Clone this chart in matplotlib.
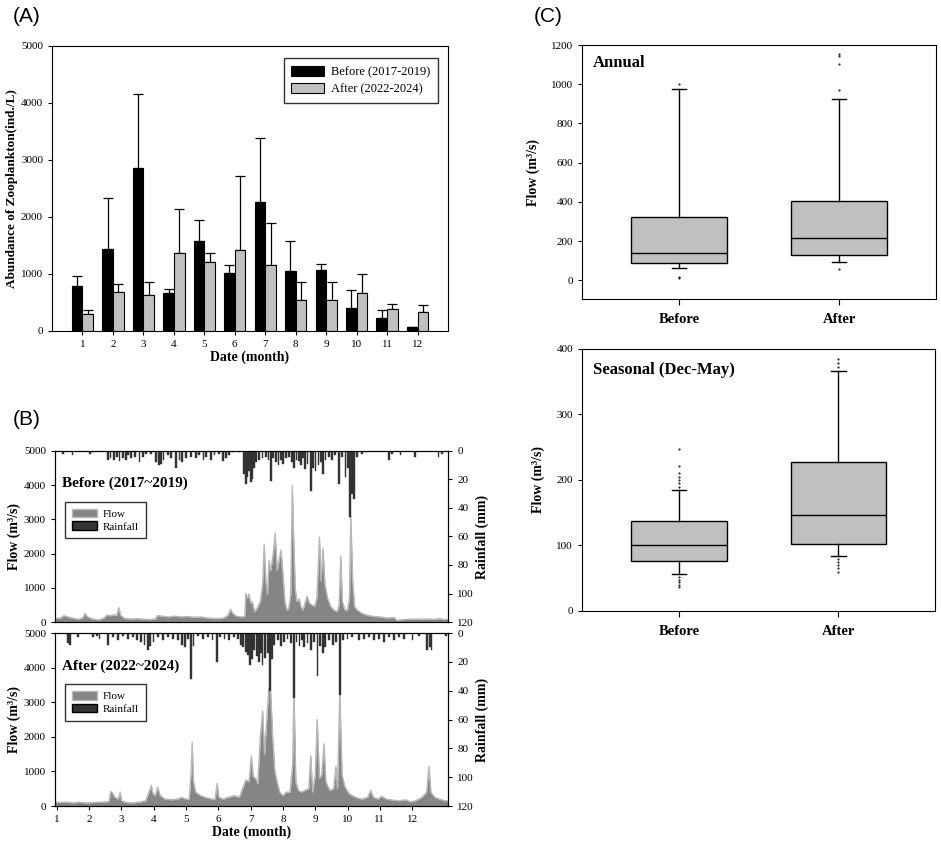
import matplotlib
matplotlib.use('Agg')
import matplotlib.pyplot as plt
from matplotlib.patches import Patch

plt.rcParams['font.family'] = ['Liberation Serif', 'DejaVu Serif']
plt.rcParams['xtick.direction'] = 'out'
plt.rcParams['ytick.direction'] = 'out'

# ---------------- Panel A data ----------------
months = list(range(1, 13))
before_mean = [789, 1439, 2860, 667, 1579, 1018, 2263, 1047, 1064, 398, 222, 64]
before_err = [170, 888, 1292, 64, 363, 134, 1117, 526, 106, 315, 141, 0]
after_mean = [298, 678, 632, 1363, 1205, 1415, 1152, 538, 538, 661, 380, 327]
after_err = [65, 141, 233, 772, 158, 1298, 737, 327, 327, 345, 88, 123]

# ---------------- Panel B data ----------------
flow_before_x = [0.95, 1.10, 1.22, 1.30, 1.45, 1.65, 1.80, 1.87, 1.95, 2.10, 2.30, 2.45, 2.55, 2.65,
                 2.75, 2.85, 2.92, 2.97, 3.10, 3.30, 3.50, 3.70, 3.90, 4.05, 4.12, 4.25, 4.45, 4.65,
                 4.85, 5.05, 5.25, 5.45, 5.65, 5.85, 6.05, 6.20, 6.30, 6.38, 6.45, 6.55, 6.70, 6.82,
                 6.85, 6.90, 6.95, 7.00, 7.05, 7.12, 7.20, 7.30, 7.37, 7.42, 7.47, 7.52, 7.57, 7.62,
                 7.70, 7.76, 7.82, 7.88, 7.94, 8.00, 8.06, 8.12, 8.18, 8.24, 8.29, 8.33, 8.38, 8.43,
                 8.50, 8.56, 8.62, 8.70, 8.75, 8.82, 8.90, 8.98, 9.05, 9.13, 9.18, 9.24, 9.30, 9.38,
                 9.48, 9.58, 9.68, 9.74, 9.79, 9.84, 9.92, 10.00, 10.06, 10.10, 10.16, 10.22, 10.30,
                 10.45, 10.60, 10.80, 11.00, 11.20, 11.45, 11.52, 11.70, 11.90, 12.10, 12.30, 12.50,
                 12.70, 12.85, 13.00, 13.12]
flow_before_y = [100, 110, 190, 160, 120, 80, 120, 250, 150, 90, 60, 110, 200, 180,
                 210, 190, 420, 200, 100, 90, 100, 80, 70, 90, 190, 170, 150, 170,
                 150, 160, 140, 150, 120, 100, 100, 130, 200, 370, 250, 170, 150, 160,
                 830, 700, 820, 550, 600, 300, 400, 600, 1100, 2270, 1200, 800, 1800, 1500,
                 2000, 2600, 1500, 1800, 2100, 1400, 600, 350, 400, 800, 4000, 2500, 1000, 600,
                 680, 450, 350, 600, 750, 550, 500, 450, 700, 2480, 1200, 2150, 1100, 700,
                 450, 350, 300, 500, 1930, 600, 350, 350, 700, 3100, 1200, 450, 350,
                 250, 200, 160, 150, 120, 130, 50, 70, 80, 90, 80, 90,
                 80, 100, 70, 80]

rain_before_x = [1.20, 1.30, 1.48, 1.61, 2.02, 2.12, 2.58, 2.66, 2.76, 2.86, 2.94, 3.05, 3.13, 3.20,
                 3.30, 3.41, 3.56, 3.66, 3.77, 3.92, 4.08, 4.16, 4.23, 4.30, 4.44, 4.54, 4.69, 4.80,
                 4.88, 5.00, 5.16, 5.31, 5.41, 5.54, 5.62, 5.77, 5.88, 6.03, 6.15, 6.24, 6.34, 6.44,
                 6.65, 6.80, 6.85, 6.90, 6.96, 7.01, 7.06, 7.11, 7.16, 7.27, 7.37, 7.47, 7.55, 7.63,
                 7.70, 7.78, 7.86, 7.93, 8.01, 8.09, 8.19, 8.27, 8.35, 8.42, 8.50, 8.55, 8.63, 8.69,
                 8.76, 8.86, 8.93, 9.01, 9.10, 9.17, 9.24, 9.32, 9.43, 9.53, 9.61, 9.73, 9.82, 9.94,
                 10.02, 10.08, 10.15, 10.21, 10.30, 10.45, 10.56, 11.28, 11.38, 11.64, 12.10, 12.20,
                 12.82, 12.92]
rain_before_y = [2, 1, 3, 1, 2, 1, 6, 5, 6, 4, 7, 5, 6, 3,
                 5, 4, 8, 4, 2, 2, 8, 10, 9, 6, 3, 5, 12, 6,
                 8, 5, 4, 5, 3, 6, 4, 6, 3, 2, 7, 5, 3, 1,
                 1, 16, 23, 18, 14, 22, 20, 12, 8, 6, 5, 4, 6, 21,
                 5, 8, 10, 6, 9, 5, 4, 8, 12, 6, 7, 10, 5, 13,
                 9, 28, 12, 14, 10, 8, 16, 6, 4, 6, 3, 23, 4, 18,
                 12, 46, 30, 34, 4, 2, 1, 6, 2, 3, 4, 1,
                 4, 2]

flow_after_x = [0.95, 1.05, 1.30, 1.50, 1.70, 1.90, 2.10, 2.30, 2.50, 2.62, 2.66, 2.72, 2.80, 2.90,
                2.96, 3.00, 3.15, 3.35, 3.55, 3.75, 3.85, 3.92, 3.98, 4.05, 4.12, 4.20, 4.35, 4.55,
                4.75, 4.85, 5.00, 5.10, 5.15, 5.19, 5.23, 5.30, 5.45, 5.60, 5.80, 5.90, 5.96, 6.02,
                6.15, 6.30, 6.50, 6.65, 6.75, 6.85, 6.95, 7.02, 7.08, 7.15, 7.22, 7.30, 7.37, 7.43,
                7.50, 7.56, 7.62, 7.68, 7.75, 7.82, 7.90, 8.00, 8.10, 8.22, 8.30, 8.34, 8.40, 8.48,
                8.58, 8.68, 8.80, 8.86, 8.92, 9.00, 9.06, 9.13, 9.20, 9.27, 9.33, 9.45, 9.57, 9.64,
                9.69, 9.76, 9.83, 9.92, 10.05, 10.25, 10.45, 10.62, 10.72, 10.80, 10.95, 11.05, 11.20,
                11.40, 11.60, 11.80, 11.95, 12.10, 12.30, 12.45, 12.52, 12.58, 12.70, 12.85, 13.00,
                13.12]
flow_after_y = [120, 100, 110, 90, 110, 90, 100, 110, 120, 130, 420, 380, 250, 200,
                400, 150, 100, 90, 110, 150, 400, 600, 350, 300, 550, 300, 200, 180,
                200, 250, 200, 200, 900, 1850, 700, 400, 300, 250, 200, 200, 650, 250,
                200, 250, 300, 250, 500, 750, 700, 1450, 850, 800, 650, 2000, 2750, 1500,
                2500, 3400, 3300, 2000, 1000, 700, 400, 300, 400, 400, 1200, 3350, 700, 450,
                400, 450, 500, 1450, 400, 900, 2500, 800, 900, 1800, 700, 450, 500, 1150,
                500, 3300, 900, 550, 350, 250, 200, 250, 450, 250, 200, 280, 200,
                170, 150, 180, 120, 150, 250, 400, 1150, 400, 250, 200, 150,
                150]

rain_after_x = [1.34, 1.41, 1.65, 2.11, 2.24, 2.32, 2.58, 2.73, 2.89, 3.04, 3.20, 3.35, 3.47, 3.61,
                3.71, 3.81, 3.89, 3.99, 4.12, 4.28, 4.43, 4.59, 4.74, 4.88, 4.96, 5.05, 5.15, 5.23,
                5.36, 5.52, 5.67, 5.82, 5.95, 6.05, 6.19, 6.34, 6.49, 6.60, 6.70, 6.77, 6.86, 6.91,
                6.98, 7.04, 7.11, 7.19, 7.25, 7.32, 7.37, 7.44, 7.53, 7.60, 7.66, 7.73, 7.84, 7.94,
                8.04, 8.14, 8.25, 8.35, 8.42, 8.51, 8.59, 8.66, 8.76, 8.87, 8.97, 9.07, 9.14, 9.23,
                9.31, 9.43, 9.54, 9.64, 9.76, 9.85, 10.00, 10.15, 10.36, 10.52, 10.67, 10.82, 10.98,
                11.13, 11.29, 11.44, 11.60, 11.75, 12.01, 12.22, 12.47, 12.55, 12.60, 13.04]
rain_after_y = [7, 8, 3, 3, 2, 4, 8, 3, 5, 2, 4, 3, 5, 6,
                8, 12, 9, 6, 3, 5, 3, 4, 5, 8, 10, 4, 32, 9,
                2, 4, 3, 5, 20, 3, 4, 5, 3, 4, 8, 10, 13, 15,
                22, 18, 12, 16, 20, 14, 22, 17, 14, 40, 18, 8, 5, 9,
                6, 4, 7, 45, 6, 9, 5, 10, 7, 12, 6, 30, 9, 14,
                10, 5, 8, 6, 43, 5, 4, 3, 5, 4, 3, 5, 4,
                6, 3, 5, 3, 4, 5, 2, 12, 10, 12, 2]

# ---------------- Panel C data ----------------
box_labels = ['Before', 'After']
annual_q1 = [87, 128]
annual_med = [138, 214]
annual_q3 = [325, 403]
annual_whislo = [61, 92]
annual_whishi = [975, 924]
annual_fliers = [[19, 10, 1000], [56, 972, 1103, 1142, 1154]]

seasonal_q1 = [76, 103]
seasonal_med = [101, 146]
seasonal_q3 = [137, 227]
seasonal_whislo = [56, 84]
seasonal_whishi = [184, 366]
seasonal_fliers = [[190, 195, 200, 205, 210, 222, 248, 52, 48, 44, 40, 37],
                   [372, 378, 384, 80, 75, 70, 65, 59]]

# ---------------- Figure ----------------
fig = plt.figure(figsize=(9.41, 8.48), dpi=100)

tick_fs = 8

# Panel A
axA = fig.add_axes([0.0553, 0.6097, 0.4208, 0.3361])
xb = [m - 0.175 for m in months]
xa = [m + 0.175 for m in months]
axA.bar(xb, before_mean, width=0.35, color='black', edgecolor='black', linewidth=0.8,
        label='Before (2017-2019)', zorder=2)
axA.bar(xa, after_mean, width=0.35, color='#c0c0c0', edgecolor='black', linewidth=0.8,
        label='After (2022-2024)', zorder=2)
axA.errorbar(xb, before_mean, yerr=[[0] * 12, before_err], fmt='none', ecolor='black',
             elinewidth=0.9, capsize=3.5, capthick=0.9, zorder=1)
axA.errorbar(xa, after_mean, yerr=[[0] * 12, after_err], fmt='none', ecolor='black',
             elinewidth=0.9, capsize=3.5, capthick=0.9, zorder=1)
axA.set_xlim(0, 13)
axA.set_ylim(0, 5000)
axA.set_xticks(months)
axA.set_yticks(range(0, 5001, 1000))
axA.tick_params(labelsize=tick_fs, length=3)
axA.set_xlabel('Date (month)', fontsize=10, fontweight='bold', labelpad=1)
axA.set_ylabel('Abundance of Zooplankton(ind./L)', fontsize=9.5, fontweight='bold', labelpad=2)
legA = axA.legend(loc='upper right', bbox_to_anchor=(0.99, 0.978), fontsize=9, frameon=True,
                  fancybox=False, edgecolor='black', handlelength=2.6, handleheight=0.9,
                  borderpad=0.6, labelspacing=0.35, handletextpad=0.6)
legA.get_frame().set_linewidth(1.0)


def flow_panel(rect, fx, fy, rx, ry, title, show_x):
    ax = fig.add_axes(rect)
    ax.fill_between(fx, 0, fy, color='#858585', linewidth=0, zorder=1)
    ax.plot(fx, fy, color='#b8b8b8', linewidth=1.0, zorder=2)
    ax.set_xlim(0.94, 13.12)
    ax.set_ylim(0, 5000)
    ax.set_yticks(range(0, 5001, 1000))
    ax.tick_params(labelsize=tick_fs, length=3)
    ax.set_ylabel('Flow (m³/s)', fontsize=10, fontweight='bold', labelpad=2)
    if show_x:
        ax.set_xticks(months)
        ax.set_xlabel('Date (month)', fontsize=10, fontweight='bold', labelpad=1)
    else:
        ax.set_xticks([])
    ax2 = ax.twinx()
    ax2.bar(rx, ry, width=0.055, color='#333333', edgecolor='#333333', linewidth=0.3)
    ax2.set_ylim(120, 0)
    ax2.set_yticks(range(0, 121, 20))
    ax2.tick_params(labelsize=tick_fs, length=3)
    ax2.set_ylabel('Rainfall (mm)', fontsize=10, fontweight='bold', labelpad=1)
    ax2.set_xlim(0.94, 13.12)
    ax.text(0.018, 0.81, title, transform=ax.transAxes, fontsize=11, fontweight='bold',
            va='center', ha='left')
    handles = [Patch(facecolor='#858585', edgecolor='#b8b8b8', label='Flow'),
               Patch(facecolor='#333333', edgecolor='black', label='Rainfall')]
    leg = ax2.legend(handles=handles, loc='upper left', bbox_to_anchor=(0.012, 0.735),
                     fontsize=8, frameon=True, fancybox=False, edgecolor='black',
                     handlelength=2.3, handleheight=0.8, borderpad=0.6, labelspacing=0.25,
                     handletextpad=0.5)
    leg.get_frame().set_linewidth(1.0)
    return ax, ax2


flow_panel([0.0584, 0.2665, 0.418, 0.2017], flow_before_x, flow_before_y,
           rain_before_x, rain_before_y, 'Before (2017~2019)', False)
flow_panel([0.0584, 0.0495, 0.418, 0.2040], flow_after_x, flow_after_y,
           rain_after_x, rain_after_y, 'After (2022~2024)', True)


def box_panel(rect, q1, med, q3, wlo, whi, fl, ylim, yticks, title, ty):
    ax = fig.add_axes(rect)
    stats = []
    for i in range(2):
        stats.append(dict(label=box_labels[i], q1=q1[i], med=med[i], q3=q3[i],
                          whislo=wlo[i], whishi=whi[i], fliers=fl[i]))
    ax.bxp(stats, positions=[1, 2], widths=0.6, patch_artist=True, capwidths=0.09,
           boxprops=dict(facecolor='#c0c0c0', edgecolor='black', linewidth=1.0),
           medianprops=dict(color='black', linewidth=1.0),
           whiskerprops=dict(color='black', linewidth=1.0),
           capprops=dict(color='black', linewidth=1.0),
           flierprops=dict(marker='.', markersize=1.0, markerfacecolor='black',
                           markeredgecolor='black', linestyle='none'))
    ax.set_xlim(0.393, 2.606)
    ax.set_ylim(*ylim)
    ax.set_yticks(yticks)
    ax.tick_params(axis='y', labelsize=tick_fs, length=3)
    ax.tick_params(axis='x', labelsize=10.5, length=4, pad=6)
    for lab in ax.get_xticklabels():
        lab.set_fontweight('bold')
    ax.set_ylabel('Flow (m³/s)', fontsize=10, fontweight='bold', labelpad=8)
    ax.text(0.03, ty, title, transform=ax.transAxes, fontsize=12, fontweight='bold',
            va='center', ha='left')
    return ax


box_panel([0.6185, 0.6474, 0.3762, 0.2995], annual_q1, annual_med, annual_q3,
          annual_whislo, annual_whishi, annual_fliers, (-95, 1200), range(0, 1201, 200),
          'Annual', 0.93)
box_panel([0.6185, 0.2795, 0.3752, 0.309], seasonal_q1, seasonal_med, seasonal_q3,
          seasonal_whislo, seasonal_whishi, seasonal_fliers, (0, 400), range(0, 401, 100),
          'Seasonal (Dec-May)', 0.92)

for txt, x, y in [('(A)', 0.014, 0.98), ('(B)', 0.014, 0.505), ('(C)', 0.567, 0.98)]:
    fig.text(x, y, txt, fontsize=15, family='Liberation Sans', va='center', ha='left')

fig.savefig('out.png', dpi=100)
